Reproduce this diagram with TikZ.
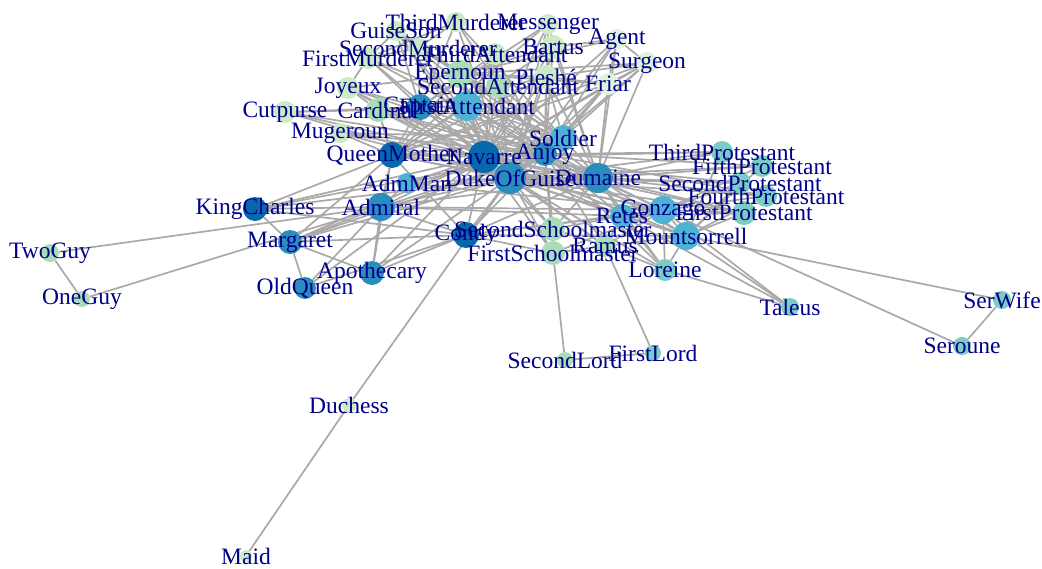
\documentclass[tikz,border=0pt]{standalone}
\usepackage{fontspec}
\setmainfont{Liberation Serif}
\pgfdeclarelayer{bg}\pgfdeclarelayer{fg}
\pgfsetlayers{bg,main,fg}
\definecolor{gA}{HTML}{E0F3DB}
\definecolor{gB}{HTML}{CCEBC5}
\definecolor{gC}{HTML}{A8DDB5}
\definecolor{gD}{HTML}{7BCCC4}
\definecolor{gE}{HTML}{4EB3D3}
\definecolor{gF}{HTML}{2B8CBE}
\definecolor{gG}{HTML}{0868AC}
\definecolor{lbl}{HTML}{00008B}
\definecolor{edgec}{HTML}{A9A9A9}
\tikzset{
  vtx/.style={circle,inner sep=0pt,draw=none},
  lab/.style={text=lbl,font=\fontsize{23.5}{23.5}\selectfont,inner sep=0pt},
  edg/.style={draw=edgec,line width=1.7pt}
}
\newcommand{\vx}[5]{\node[vtx,fill=#5,minimum size=#4pt*2] (#1) at (#2,#3) {};
  \begin{pgfonlayer}{fg}\node[lab] (#1-l) at (#2,#3) {#1};\end{pgfonlayer}}
\begin{document}
\begin{tikzpicture}[x=1pt,y=-1pt]
\useasboundingbox (0,0) rectangle (1042,568);
% vertices
\vx{TwoGuy}{50}{253}{9}{gC}
\vx{OneGuy}{82}{299}{8}{gC}
\vx{KingCharles}{255}{209}{12}{gG}
\vx{Margaret}{290}{242}{12}{gF}
\vx{OldQueen}{305}{288}{11}{gF}
\vx{Apothecary}{372}{273}{12}{gF}
\vx{Admiral}{381}{207}{14}{gF}
\vx{AdmMan}{407}{183}{10}{gE}
\vx{QueenMother}{392}{155}{13}{gG}
\vx{Condy}{466}{235}{13}{gG}
\vx{Navarre}{484}{157}{16}{gG}
\vx{DukeOfGuise}{510}{178}{16}{gF}
\vx{Anjoy}{545}{154}{12}{gF}
\vx{Soldier}{563}{138}{13}{gE}
\vx{Dumaine}{598}{178}{15}{gF}
\vx{Duchess}{349}{405}{7}{gB}
\vx{Maid}{246}{556}{6}{gB}
\vx{Cutpurse}{285}{112}{11}{gB}
\vx{Joyeux}{348}{88}{11}{gB}
\vx{Mugeroun}{340}{133}{10}{gB}
\vx{Cardinal}{378}{110}{12}{gC}
\vx{Captain}{420}{107}{13}{gF}
\vx{FirstAttendant}{467}{106}{15}{gE}
\vx{FirstMurderer}{368}{58}{11}{gB}
\vx{GuiseSon}{396}{31}{10}{gB}
\vx{SecondMurderer}{418}{48}{10}{gB}
\vx{ThirdMurderer}{456}{22}{10}{gB}
\vx{Epernoun}{460}{74}{14}{gC}
\vx{ThirdAttendant}{495}{54}{11}{gB}
\vx{SecondAttendant}{498}{86}{12}{gC}
\vx{Messenger}{548}{24}{10}{gB}
\vx{Bartus}{553}{47}{12}{gB}
\vx{Pleshé}{546}{77}{12}{gB}
\vx{Agent}{617}{39}{10}{gA}
\vx{Surgeon}{647}{63}{11}{gA}
\vx{Friar}{608}{84}{11}{gA}
\vx{SecondSchoolmaster}{553}{229}{12}{gC}
\vx{FirstSchoolmaster}{553}{253}{12}{gC}
\vx{Ramus}{605}{246}{11}{gC}
\vx{Retes}{622}{216}{12}{gE}
\vx{Gonzago}{663}{210}{14}{gE}
\vx{Mountsorrell}{686}{236}{14}{gE}
\vx{Loreine}{665}{270}{11}{gD}
\vx{ThirdProtestant}{722}{152}{11}{gD}
\vx{FifthProtestant}{762}{166}{11}{gD}
\vx{SecondProtestant}{740}{183}{11}{gD}
\vx{FourthProtestant}{766}{196}{11}{gD}
\vx{FirstProtestant}{744}{213}{12}{gD}
\vx{Taleus}{790}{307}{9}{gD}
\vx{SerWife}{1002}{300}{9}{gD}
\vx{Seroune}{962}{346}{9}{gD}
\vx{FirstLord}{653}{353}{8}{gD}
\vx{SecondLord}{565}{360}{8}{gC}
% edges
\begin{pgfonlayer}{bg}
\foreach \a/\b in {TwoGuy/OneGuy,TwoGuy/Admiral,OneGuy/Admiral,
 KingCharles/Margaret,KingCharles/Navarre,KingCharles/QueenMother,KingCharles/Admiral,KingCharles/DukeOfGuise,KingCharles/Condy,KingCharles/Anjoy,
 Margaret/OldQueen,Margaret/Apothecary,Margaret/Navarre,Margaret/Admiral,Margaret/Condy,Margaret/QueenMother,Margaret/DukeOfGuise,Margaret/Anjoy,
 OldQueen/Navarre,OldQueen/Admiral,OldQueen/Condy,
 Apothecary/Admiral,Apothecary/Condy,Apothecary/DukeOfGuise,Apothecary/QueenMother,Apothecary/Navarre,
 Admiral/Condy,Admiral/Navarre,Admiral/DukeOfGuise,Admiral/QueenMother,Admiral/AdmMan,Admiral/Anjoy,Admiral/Gonzago,Admiral/Retes,Admiral/Dumaine,
 AdmMan/DukeOfGuise,AdmMan/Gonzago,AdmMan/Navarre,AdmMan/Anjoy,
 Duchess/Maid,Duchess/DukeOfGuise,
 SecondLord/FirstLord,SecondLord/FirstSchoolmaster,FirstLord/Ramus,
 Taleus/Mountsorrell,Taleus/Gonzago,Taleus/Loreine,Taleus/Retes,
 SerWife/Seroune,SerWife/Mountsorrell,Seroune/Gonzago,
 Loreine/Mountsorrell,Loreine/Gonzago,Loreine/Retes,Loreine/DukeOfGuise,Loreine/Ramus,Loreine/Dumaine,Loreine/Anjoy,
 Ramus/Retes,Ramus/Navarre,Ramus/DukeOfGuise,Ramus/Anjoy,Ramus/Gonzago,Ramus/Mountsorrell,
 FirstSchoolmaster/SecondSchoolmaster,FirstSchoolmaster/DukeOfGuise,FirstSchoolmaster/Navarre,FirstSchoolmaster/Anjoy,FirstSchoolmaster/Ramus,FirstSchoolmaster/Condy,FirstSchoolmaster/Gonzago,
 SecondSchoolmaster/DukeOfGuise,SecondSchoolmaster/Navarre,SecondSchoolmaster/Anjoy,SecondSchoolmaster/Ramus,SecondSchoolmaster/Dumaine,SecondSchoolmaster/Retes,
 Condy/Navarre,Condy/DukeOfGuise,Condy/QueenMother,Condy/Anjoy,Condy/Dumaine,Condy/Gonzago,Condy/Mountsorrell,Condy/Retes,
 Retes/Gonzago,Retes/Mountsorrell,Retes/DukeOfGuise,Retes/Anjoy,Retes/Dumaine,Retes/Navarre,
 Gonzago/Mountsorrell,Gonzago/DukeOfGuise,Gonzago/Anjoy,Gonzago/Dumaine,Gonzago/Navarre,
 Mountsorrell/DukeOfGuise,Mountsorrell/Dumaine,Mountsorrell/Anjoy,Mountsorrell/Navarre,
 Cutpurse/Cardinal,Cutpurse/DukeOfGuise,Cutpurse/Navarre,Cutpurse/Captain,Cutpurse/Anjoy,
 Joyeux/Navarre,Joyeux/DukeOfGuise,Joyeux/Anjoy,Joyeux/Captain,Joyeux/Cardinal,Joyeux/FirstMurderer,Joyeux/Epernoun,
 Mugeroun/DukeOfGuise,Mugeroun/Anjoy,Mugeroun/QueenMother,Mugeroun/Navarre,Mugeroun/Soldier,
 Cardinal/DukeOfGuise,Cardinal/Dumaine,Cardinal/Navarre,Cardinal/QueenMother,Cardinal/Captain,Cardinal/FirstAttendant,Cardinal/Anjoy,
 QueenMother/Navarre,QueenMother/DukeOfGuise,QueenMother/Anjoy,QueenMother/Dumaine,QueenMother/Soldier,QueenMother/Captain,QueenMother/Epernoun,QueenMother/Cardinal,QueenMother/Gonzago,
 Navarre/DukeOfGuise,Navarre/Anjoy,Navarre/Dumaine,Navarre/Soldier,Navarre/Bartus,Navarre/Pleshé,Navarre/Epernoun,Navarre/Friar,Navarre/Surgeon,
 DukeOfGuise/Anjoy,DukeOfGuise/Dumaine,DukeOfGuise/Soldier,DukeOfGuise/Captain,DukeOfGuise/FirstAttendant,
 Anjoy/Dumaine,Anjoy/Soldier,Anjoy/Epernoun,Anjoy/Pleshé,Anjoy/Friar,Anjoy/Surgeon,Anjoy/Agent,Anjoy/Bartus,
 Soldier/Dumaine,Soldier/FirstAttendant,Soldier/Captain,Soldier/SecondAttendant,
 Dumaine/FirstAttendant,Dumaine/Friar,Dumaine/Agent,
 FirstMurderer/SecondMurderer,FirstMurderer/ThirdMurderer,FirstMurderer/DukeOfGuise,FirstMurderer/Captain,FirstMurderer/Anjoy,FirstMurderer/Soldier,
 SecondMurderer/ThirdMurderer,SecondMurderer/DukeOfGuise,SecondMurderer/Captain,SecondMurderer/Soldier,SecondMurderer/Navarre,
 ThirdMurderer/DukeOfGuise,ThirdMurderer/Captain,ThirdMurderer/Soldier,ThirdMurderer/Anjoy,
 GuiseSon/DukeOfGuise,GuiseSon/Navarre,GuiseSon/Captain,GuiseSon/Anjoy,GuiseSon/Epernoun,GuiseSon/FirstMurderer,GuiseSon/Soldier,
 Epernoun/Pleshé,Epernoun/DukeOfGuise,Epernoun/Soldier,Epernoun/FirstAttendant,Epernoun/Dumaine,Epernoun/Friar,Epernoun/Surgeon,
 ThirdAttendant/FirstAttendant,ThirdAttendant/SecondAttendant,ThirdAttendant/DukeOfGuise,ThirdAttendant/Navarre,ThirdAttendant/Anjoy,ThirdAttendant/Captain,
 SecondAttendant/FirstAttendant,SecondAttendant/DukeOfGuise,SecondAttendant/Navarre,SecondAttendant/Anjoy,SecondAttendant/Captain,
 FirstAttendant/Navarre,FirstAttendant/Anjoy,FirstAttendant/Captain,FirstAttendant/QueenMother,
 Captain/Navarre,Captain/Anjoy,
 Messenger/DukeOfGuise,Messenger/Navarre,Messenger/Anjoy,Messenger/Dumaine,Messenger/Captain,Messenger/QueenMother,
 Bartus/Pleshé,Bartus/DukeOfGuise,Bartus/Dumaine,Bartus/Epernoun,Bartus/QueenMother,Bartus/Agent,
 Pleshé/DukeOfGuise,Pleshé/Dumaine,Pleshé/Friar,Pleshé/Surgeon,Pleshé/QueenMother,Pleshé/Soldier,Pleshé/Captain,
 Agent/DukeOfGuise,Agent/Navarre,Agent/Surgeon,Agent/Friar,Agent/Epernoun,
 Surgeon/DukeOfGuise,Surgeon/Friar,Surgeon/Dumaine,Surgeon/QueenMother,
 Friar/DukeOfGuise,Friar/QueenMother,Friar/Soldier,
 ThirdProtestant/Dumaine,ThirdProtestant/DukeOfGuise,ThirdProtestant/Anjoy,ThirdProtestant/Mountsorrell,ThirdProtestant/Navarre,
 FifthProtestant/Dumaine,FifthProtestant/DukeOfGuise,FifthProtestant/Anjoy,FifthProtestant/Gonzago,FifthProtestant/Mountsorrell,
 SecondProtestant/Dumaine,SecondProtestant/DukeOfGuise,SecondProtestant/Gonzago,SecondProtestant/Navarre,SecondProtestant/Mountsorrell,
 FourthProtestant/Dumaine,FourthProtestant/DukeOfGuise,FourthProtestant/Gonzago,FourthProtestant/Mountsorrell,FourthProtestant/Anjoy,
 FirstProtestant/Dumaine,FirstProtestant/DukeOfGuise,FirstProtestant/Gonzago,FirstProtestant/Mountsorrell,FirstProtestant/Retes,FirstProtestant/Navarre}
  {\draw[edg] (\a) -- (\b);}
\end{pgfonlayer}
\end{tikzpicture}
\end{document}
